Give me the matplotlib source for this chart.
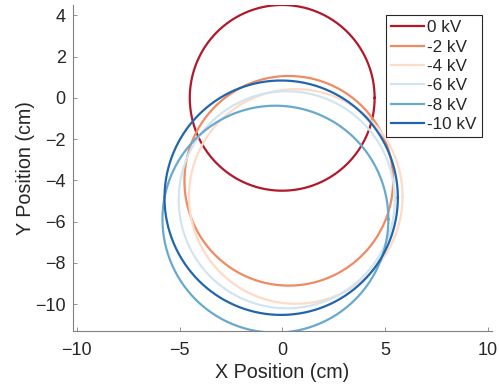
import numpy as np
import matplotlib.pyplot as plt

plt.rcParams['font.family'] = ['Liberation Sans', 'DejaVu Sans']

# datos de los circulos (cm)
labels = ['0 kV', '-2 kV', '-4 kV', '-6 kV', '-8 kV', '-10 kV']
cx = [0.0, 0.32, 0.66, 0.22, -0.33, -0.05]
cy = [0.0, -4.02, -4.78, -4.94, -5.88, -4.84]
rad = [4.5, 5.08, 5.2, 5.26, 5.5, 5.68]
colors = ['#b2182b', '#ef8a62', '#fddbc7', '#d1e5f0', '#67a9cf', '#2166ac']

xticks = [-10, -5, 0, 5, 10]
yticks = [4, 2, 0, -2, -4, -6, -8, -10]

#--------------------------------------------------------------------
# grafica
#--------------------------------------------------------------------

fig = plt.figure(figsize=(4.99, 3.87), dpi=100)
ax = fig.add_axes([72.7/499, 56/387, 419/499, 326/387])

t = np.linspace(0, 2*np.pi, 400)
for x0, y0, r, c, lab in zip(cx, cy, rad, colors, labels):
    ax.plot(x0 + r*np.cos(t), y0 + r*np.sin(t), color=c, lw=1.6, label=lab)

ax.set_xlim(-10.2, 10.2)
ax.set_ylim(-11.3, 4.5)
ax.set_xticks(xticks)
ax.set_yticks(yticks)

tc = '#262626'
for s in ['top', 'right']:
    ax.spines[s].set_visible(False)
for s in ['left', 'bottom']:
    ax.spines[s].set_color('#808080')
    ax.spines[s].set_linewidth(0.8)
ax.tick_params(direction='in', length=3, width=0.6, color='#808080',
               labelsize=13, labelcolor=tc)
ax.tick_params(axis='x', pad=8)
ax.tick_params(axis='y', pad=5)

ax.set_xlabel('X Position (cm)', fontsize=14.2, color=tc, labelpad=3)
ax.set_ylabel('Y Position (cm)', fontsize=14.2, color=tc, labelpad=0)

leg = ax.legend(loc='upper right', bbox_to_anchor=(481.7/499, 1 - 15/387),
                bbox_transform=fig.transFigure, borderaxespad=0,
                fontsize=12.3, handlelength=1.95, handletextpad=0.15,
                labelspacing=0.25, borderpad=0.32, fancybox=False,
                framealpha=1, edgecolor=tc)
leg.get_frame().set_linewidth(0.8)
for txt in leg.get_texts():
    txt.set_color(tc)

fig.savefig('out.png', dpi=100)
